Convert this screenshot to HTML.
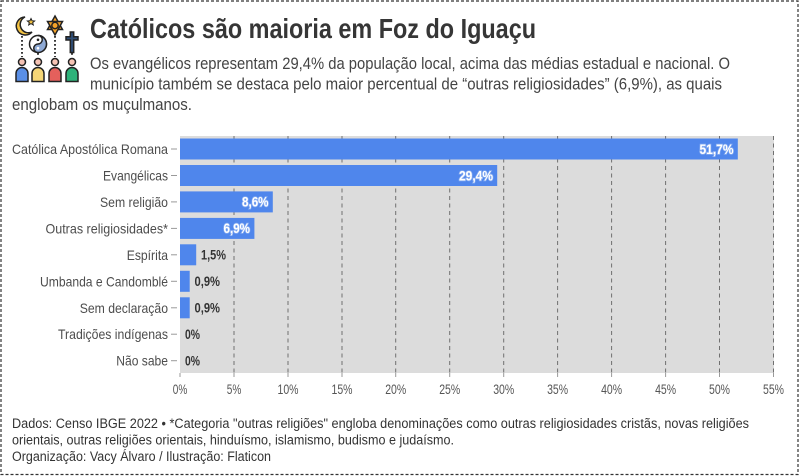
<!DOCTYPE html>
<html>
<head>
<meta charset="utf-8">
<style>
  html, body { margin: 0; padding: 0; background: #ffffff; }
  svg { display: block; }
  text { font-family: "Liberation Sans", "DejaVu Sans", sans-serif; }
</style>
</head>
<body>
<svg width="800" height="476" viewBox="0 0 800 476" xmlns="http://www.w3.org/2000/svg">
  <rect x="0" y="0" width="800" height="476" fill="#ffffff"/>
  <!-- dashed outer border -->
  <rect x="1" y="1" width="797" height="473.5" fill="none" stroke="#333" stroke-width="1.2" stroke-dasharray="3 2"/>

  <!-- ICON -->
  <g stroke="#222" stroke-width="1.5">
    <g stroke="#222" stroke-width="1.8" stroke-dasharray="1.8 2.2" fill="none">
      <line x1="22" y1="36" x2="22" y2="57"/>
      <line x1="38" y1="53" x2="38" y2="57"/>
      <line x1="55" y1="36" x2="55" y2="57"/>
      <line x1="72" y1="53" x2="72" y2="57"/>
    </g>
    <!-- moon -->
    <path d="M25 17 A9 9 0 1 0 32 32 A7 7 0 1 1 25 17 Z" fill="#f5c443"/>
    <path d="M31 18.5 l1.1 2.3 2.5 0.2 -1.9 1.6 0.6 2.4 -2.3 -1.4 -2.3 1.4 0.6 -2.4 -1.9 -1.6 2.5 -0.2 Z" fill="#f5c443" stroke-width="1"/>
    <!-- star of david -->
    <path d="M55 16 L62.5 29.5 L47.5 29.5 Z" fill="#f4a32a"/>
    <path d="M55 35 L47.5 21.5 L62.5 21.5 Z" fill="#f4a32a"/>
    <circle cx="55" cy="25.5" r="3.2" fill="#f4a32a"/>
    <!-- yin yang -->
    <circle cx="38" cy="44" r="8.5" fill="#ffffff"/>
    <path d="M38 35.5 A8.5 8.5 0 0 1 38 52.5 A4.25 4.25 0 0 1 38 44 A4.25 4.25 0 0 0 38 35.5 Z" fill="#8ea9d4"/>
    <circle cx="38" cy="39.8" r="1.3" fill="#222" stroke="none"/>
    <circle cx="38" cy="48.2" r="1.3" fill="#fff" stroke="none"/>
    <!-- cross -->
    <path d="M70.3 32 h3.4 v4.8 h4.3 v3.2 h-4.3 v12.5 h-3.4 v-12.5 h-4.3 v-3.2 h4.3 Z" fill="#2f4d74"/>
    <!-- people -->
    <circle cx="22" cy="62" r="3.5" fill="#f6c4b5"/>
    <circle cx="38" cy="62" r="3.5" fill="#f6c4b5"/>
    <circle cx="55" cy="62" r="3.5" fill="#f6c4b5"/>
    <circle cx="72" cy="62" r="3.5" fill="#f6c4b5"/>
    <path d="M16 81.5 v-8 a6 6 0 0 1 12 0 v8 Z" fill="#5a8fe6"/>
    <path d="M32 81.5 v-8 a6 6 0 0 1 12 0 v8 Z" fill="#f6d676"/>
    <path d="M49 81.5 v-8 a6 6 0 0 1 12 0 v8 Z" fill="#e4605c"/>
    <path d="M66 81.5 v-8 a6 6 0 0 1 12 0 v8 Z" fill="#2fb27a"/>
  </g>

  <!-- TITLE -->
  <text x="90" y="38" font-size="28" font-weight="bold" fill="#363636" textLength="446" lengthAdjust="spacingAndGlyphs">Católicos são maioria em Foz do Iguaçu</text>
  <!-- SUBTITLE -->
  <g font-size="17" fill="#444444">
    <text x="90" y="69" textLength="640" lengthAdjust="spacingAndGlyphs">Os evangélicos representam 29,4% da população local, acima das médias estadual e nacional. O</text>
    <text x="90" y="89.5" textLength="632" lengthAdjust="spacingAndGlyphs">município também se destaca pelo maior percentual de “outras religiosidades” (6,9%), as quais</text>
    <text x="12" y="110" textLength="180" lengthAdjust="spacingAndGlyphs">englobam os muçulmanos.</text>
  </g>

  <!-- PANEL -->
  <rect x="180" y="136" width="594" height="237" fill="#dcdcdc"/>
  <g stroke="#707070" stroke-width="1" stroke-dasharray="4 3.5">
    <line x1="234" y1="136" x2="234" y2="373"/>
    <line x1="288" y1="136" x2="288" y2="373"/>
    <line x1="342" y1="136" x2="342" y2="373"/>
    <line x1="395.7" y1="136" x2="395.7" y2="373"/>
    <line x1="449.7" y1="136" x2="449.7" y2="373"/>
    <line x1="503.7" y1="136" x2="503.7" y2="373"/>
    <line x1="557.6" y1="136" x2="557.6" y2="373"/>
    <line x1="611.6" y1="136" x2="611.6" y2="373"/>
    <line x1="665.6" y1="136" x2="665.6" y2="373"/>
    <line x1="719.5" y1="136" x2="719.5" y2="373"/>
    <line x1="773.5" y1="136" x2="773.5" y2="373"/>
  </g>

  <!-- BARS -->
  <g fill="#4f86ec">
    <rect x="180" y="138.5" width="557.8" height="21"/>
    <rect x="180" y="165" width="317.2" height="21"/>
    <rect x="180" y="191.4" width="92.8" height="21"/>
    <rect x="180" y="217.9" width="74.4" height="21"/>
    <rect x="180" y="244.3" width="16.2" height="21"/>
    <rect x="180" y="270.8" width="9.7" height="21"/>
    <rect x="180" y="297.3" width="9.7" height="21"/>
  </g>

  <!-- inside labels -->
  <g font-size="13.5" font-weight="bold" fill="#ffffff" text-anchor="end" stroke="#86acf1" stroke-width="1.6" paint-order="stroke">
    <text x="733.5" y="153.8" textLength="34" lengthAdjust="spacingAndGlyphs">51,7%</text>
    <text x="493" y="180.3" textLength="34" lengthAdjust="spacingAndGlyphs">29,4%</text>
    <text x="268.5" y="206.7" textLength="26.5" lengthAdjust="spacingAndGlyphs">8,6%</text>
    <text x="250" y="233.2" textLength="26.5" lengthAdjust="spacingAndGlyphs">6,9%</text>
  </g>
  <!-- outside labels -->
  <g font-size="13.5" font-weight="bold" fill="#333333">
    <text x="201" y="259.6" textLength="25" lengthAdjust="spacingAndGlyphs">1,5%</text>
    <text x="194.5" y="286.1" textLength="25.5" lengthAdjust="spacingAndGlyphs">0,9%</text>
    <text x="194.5" y="312.6" textLength="25.5" lengthAdjust="spacingAndGlyphs">0,9%</text>
    <text x="185" y="339" textLength="15" lengthAdjust="spacingAndGlyphs">0%</text>
    <text x="185" y="365.5" textLength="15" lengthAdjust="spacingAndGlyphs">0%</text>
  </g>

  <!-- Y axis ticks -->
  <g stroke="#9a9a9a" stroke-width="1">
    <line x1="171" y1="149" x2="177" y2="149"/>
    <line x1="171" y1="175.5" x2="177" y2="175.5"/>
    <line x1="171" y1="201.9" x2="177" y2="201.9"/>
    <line x1="171" y1="228.4" x2="177" y2="228.4"/>
    <line x1="171" y1="254.8" x2="177" y2="254.8"/>
    <line x1="171" y1="281.3" x2="177" y2="281.3"/>
    <line x1="171" y1="307.8" x2="177" y2="307.8"/>
    <line x1="171" y1="334.2" x2="177" y2="334.2"/>
    <line x1="171" y1="360.7" x2="177" y2="360.7"/>
  </g>
  <!-- Y axis labels -->
  <g font-size="14" fill="#4d4d4d" text-anchor="end">
    <text x="168" y="154" textLength="156" lengthAdjust="spacingAndGlyphs">Católica Apostólica Romana</text>
    <text x="168" y="180.5" textLength="65" lengthAdjust="spacingAndGlyphs">Evangélicas</text>
    <text x="168" y="206.9" textLength="68" lengthAdjust="spacingAndGlyphs">Sem religião</text>
    <text x="168" y="233.4" textLength="122.5" lengthAdjust="spacingAndGlyphs">Outras religiosidades*</text>
    <text x="168" y="259.8" textLength="41.3" lengthAdjust="spacingAndGlyphs">Espírita</text>
    <text x="168" y="286.3" textLength="128" lengthAdjust="spacingAndGlyphs">Umbanda e Candomblé</text>
    <text x="168" y="312.8" textLength="88.3" lengthAdjust="spacingAndGlyphs">Sem declaração</text>
    <text x="168" y="339.2" textLength="110" lengthAdjust="spacingAndGlyphs">Tradições indígenas</text>
    <text x="168" y="365.7" textLength="51.7" lengthAdjust="spacingAndGlyphs">Não sabe</text>
  </g>

  <!-- X axis ticks -->
  <g stroke="#9a9a9a" stroke-width="1">
    <line x1="180" y1="373" x2="180" y2="377"/>
    <line x1="234" y1="373" x2="234" y2="377"/>
    <line x1="288" y1="373" x2="288" y2="377"/>
    <line x1="342" y1="373" x2="342" y2="377"/>
    <line x1="395.7" y1="373" x2="395.7" y2="377"/>
    <line x1="449.7" y1="373" x2="449.7" y2="377"/>
    <line x1="503.7" y1="373" x2="503.7" y2="377"/>
    <line x1="557.6" y1="373" x2="557.6" y2="377"/>
    <line x1="611.6" y1="373" x2="611.6" y2="377"/>
    <line x1="665.6" y1="373" x2="665.6" y2="377"/>
    <line x1="719.5" y1="373" x2="719.5" y2="377"/>
    <line x1="773.5" y1="373" x2="773.5" y2="377"/>
  </g>
  <!-- X axis labels -->
  <g font-size="14" fill="#555555" text-anchor="middle">
    <text x="180" y="394" textLength="14.5" lengthAdjust="spacingAndGlyphs">0%</text>
    <text x="234" y="394" textLength="14.5" lengthAdjust="spacingAndGlyphs">5%</text>
    <text x="288" y="394" textLength="21" lengthAdjust="spacingAndGlyphs">10%</text>
    <text x="342" y="394" textLength="21" lengthAdjust="spacingAndGlyphs">15%</text>
    <text x="395.7" y="394" textLength="21" lengthAdjust="spacingAndGlyphs">20%</text>
    <text x="449.7" y="394" textLength="21" lengthAdjust="spacingAndGlyphs">25%</text>
    <text x="503.7" y="394" textLength="21" lengthAdjust="spacingAndGlyphs">30%</text>
    <text x="557.6" y="394" textLength="21" lengthAdjust="spacingAndGlyphs">35%</text>
    <text x="611.6" y="394" textLength="21" lengthAdjust="spacingAndGlyphs">40%</text>
    <text x="665.6" y="394" textLength="21" lengthAdjust="spacingAndGlyphs">45%</text>
    <text x="719.5" y="394" textLength="21" lengthAdjust="spacingAndGlyphs">50%</text>
    <text x="773.5" y="394" textLength="21" lengthAdjust="spacingAndGlyphs">55%</text>
  </g>

  <!-- FOOTER -->
  <g font-size="13.5" fill="#333333">
    <text x="12" y="428" textLength="737" lengthAdjust="spacingAndGlyphs">Dados: Censo IBGE 2022 • *Categoria "outras religiões" engloba denominações como outras religiosidades cristãs, novas religiões</text>
    <text x="12" y="444.5" textLength="442" lengthAdjust="spacingAndGlyphs">orientais, outras religiões orientais, hinduísmo, islamismo, budismo e judaísmo.</text>
    <text x="12" y="461" textLength="259" lengthAdjust="spacingAndGlyphs">Organização: Vacy Álvaro / Ilustração: Flaticon</text>
  </g>
</svg>
</body>
</html>
